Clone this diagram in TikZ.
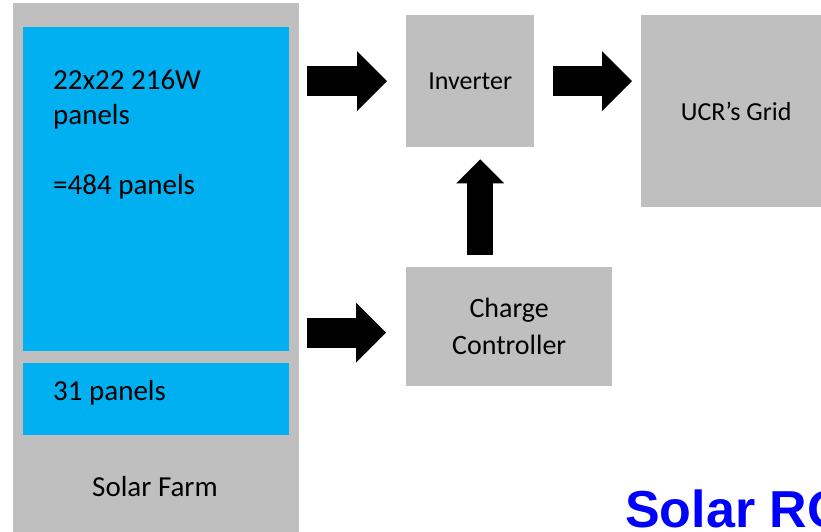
\documentclass[tikz,border=0pt]{standalone}
\usepackage{fontspec}
\setmainfont{Carlito}
\newfontfamily\titlefont{Liberation Sans}
\usetikzlibrary{arrows.meta, positioning}
\definecolor{boxgray}{RGB}{191,191,191}
\definecolor{panelblue}{RGB}{0,176,240}
\definecolor{titleblue}{RGB}{0,0,255}
\def\bigtext{\fontsize{29}{35}\selectfont}
\def\boxtext{\fontsize{26}{37}\selectfont}

\begin{document}
\begin{tikzpicture}[x=1pt, y=-1pt]
    \tikzstyle{box}=[rectangle, fill=boxgray, inner sep=0pt, anchor=north west, font=\boxtext]
    \tikzstyle{panels}=[box, fill=panelblue]
    \tikzstyle{label}=[inner sep=0pt, font=\bigtext]
    \tikzstyle{block arrow}=[line width=30pt, -{Triangle[length=30pt, width=60pt, line width=0pt]}]
    \tikzstyle{up arrow}=[line width=26pt, -{Triangle[length=24pt, width=48pt, line width=0pt]}]
    \useasboundingbox (0,0) rectangle (821,531);

    % Solar farm and its two groups of panels
    \node[box, minimum width=286pt, minimum height=535pt] (farm) at (13,3) {};
    \node[panels, minimum width=266pt, minimum height=324pt] (main) at (23,27) {};
    \node[panels, minimum width=266pt, minimum height=72pt] (extra) at (23,363) {};
    \node[label, align=left, anchor=north west] (main-text) at (53,69.5) {22x22 216W\\panels\\[35pt]=484 panels};
    \node[label, anchor=base west] (extra-text) at (53,400) {31 panels};
    \node[label, anchor=base] (farm-text) at (155,496) {Solar Farm};

    % The other blocks
    \node[box, minimum width=128pt, minimum height=132pt] (inv) at (406,15) {Inverter};
    \node[box, minimum width=190pt, minimum height=192pt] (grid) at (641,15) {UCR’s Grid};
    \node[box, minimum width=206pt, minimum height=119pt, align=center, font=\fontsize{28}{37}\selectfont] (cc) at (406,267) {Charge\\Controller};

    % Block arrows between them
    \draw[block arrow] ([xshift=8pt]farm.east |- inv.west) -- ([xshift=-19pt]inv.west);
    \draw[block arrow] ([xshift=19pt]inv.east) -- ([xshift=-9pt]grid.west |- inv.east);
    \draw[block arrow] ([xshift=8pt, yshift=-6pt]farm.east |- cc.west) -- ([xshift=-20pt, yshift=-6pt]cc.west);
    \draw[up arrow] ([xshift=10pt, yshift=12pt]cc.north -| inv.south) -- ([xshift=10pt, yshift=-12pt]inv.south);

    \node[inner sep=0pt, anchor=base west, text=titleblue, font={\titlefont\bfseries\fontsize{52}{60}\selectfont}] (title) at (625,527) {Solar RO};
\end{tikzpicture}
\end{document}
